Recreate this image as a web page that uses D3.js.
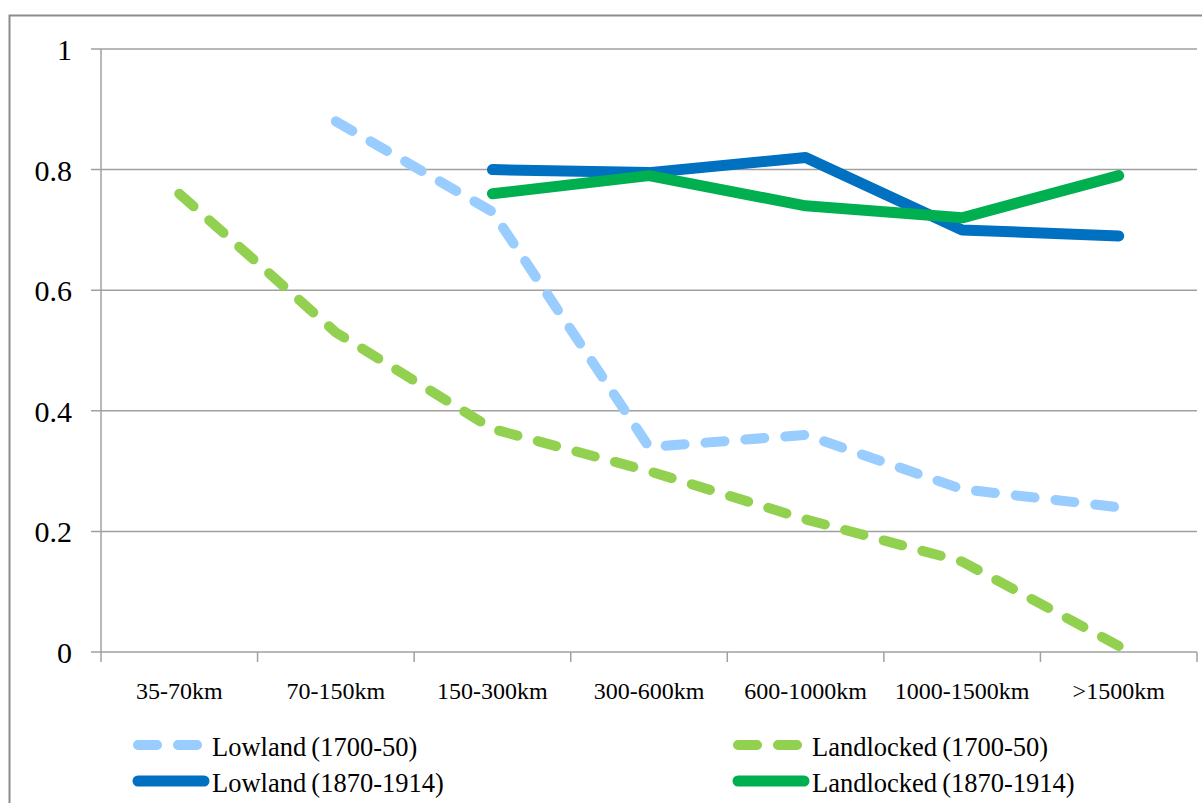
<!DOCTYPE html>
<html>
<head>
<meta charset="utf-8">
<script src="https://cdn.jsdelivr.net/npm/d3@7"></script>
<style>
  html, body { margin: 0; padding: 0; background: #fff; }
  svg { display: block; }
  text { font-family: "Liberation Serif", "Times New Roman", serif; fill: #000; }
</style>
</head>
<body>
<svg id="chart" width="1202" height="803"></svg>
<script>
// ---- data ----
const categories = ["35-70km", "70-150km", "150-300km", "300-600km", "600-1000km", "1000-1500km", ">1500km"];
const lowland1700 = [null, 0.88, 0.73, 0.34, 0.36, 0.27, 0.24];
const landlocked1700 = [0.76, 0.53, 0.37, 0.30, 0.22, 0.15, 0.01];
const lowland1870 = [null, null, 0.80, 0.795, 0.82, 0.70, 0.69];
const landlocked1870 = [null, null, 0.76, 0.79, 0.74, 0.72, 0.79];
const yTicks = [0, 0.2, 0.4, 0.6, 0.8, 1];
const yTickLabels = ["0", "0.2", "0.4", "0.6", "0.8", "1"];
const seriesNames = ["Lowland (1700-50)", "Landlocked (1700-50)", "Lowland (1870-1914)", "Landlocked (1870-1914)"];

const series = [
  { name: seriesNames[0], values: lowland1700, color: "#99CCFF", dashed: true },
  { name: seriesNames[1], values: landlocked1700, color: "#92D050", dashed: true },
  { name: seriesNames[2], values: lowland1870, color: "#0070C0", dashed: false },
  { name: seriesNames[3], values: landlocked1870, color: "#00B050", dashed: false }
];

const svg = d3.select("#chart");
const plotLeft = 101, plotRight = 1197, plotTop = 49, plotBottom = 652;

const x = d3.scaleBand().domain(categories).range([plotLeft, plotRight]).paddingInner(0).paddingOuter(0);
const y = d3.scaleLinear().domain([0, 1]).range([plotBottom, plotTop]);

// outer border
svg.append("rect")
  .attr("x", 9.5).attr("y", 15.5).attr("width", 1210).attr("height", 810)
  .attr("fill", "none").attr("stroke", "#8c8c8c").attr("stroke-width", 2);

// gridlines
svg.append("g").selectAll("line").data(yTicks).join("line")
  .attr("x1", plotLeft - 10).attr("x2", plotRight)
  .attr("y1", d => y(d)).attr("y2", d => y(d))
  .attr("stroke", "#a0a0a0").attr("stroke-width", 1.5);

// y axis line
svg.append("line")
  .attr("x1", plotLeft).attr("x2", plotLeft).attr("y1", plotTop).attr("y2", plotBottom)
  .attr("stroke", "#a0a0a0").attr("stroke-width", 1.5);

// y tick labels
svg.append("g").selectAll("text").data(yTicks).join("text")
  .attr("x", 72).attr("y", d => y(d) + 11)
  .attr("text-anchor", "end")
  .attr("font-size", 30)
  .text((d, i) => yTickLabels[i]);

// x ticks (category boundaries)
const boundaries = categories.map(c => x(c)).concat([plotRight]);
svg.append("g").selectAll("line").data(boundaries).join("line")
  .attr("x1", d => d).attr("x2", d => d)
  .attr("y1", plotBottom).attr("y2", plotBottom + 10)
  .attr("stroke", "#a0a0a0").attr("stroke-width", 1.5);

// x tick labels
svg.append("g").selectAll("text").data(categories).join("text")
  .attr("x", d => x(d) + x.bandwidth() / 2)
  .attr("y", 699)
  .attr("text-anchor", "middle")
  .attr("font-size", 24)
  .text(d => d);

// lines
const line = d3.line()
  .defined(d => d.v !== null)
  .x(d => x(d.c) + x.bandwidth() / 2)
  .y(d => y(d.v));

series.forEach(s => {
  const pts = categories.map((c, i) => ({ c, v: s.values[i] }));
  svg.append("path")
    .attr("d", line(pts))
    .attr("fill", "none")
    .attr("stroke", s.color)
    .attr("stroke-width", s.dashed ? 10 : 11)
    .attr("stroke-linecap", "round")
    .attr("stroke-linejoin", "round")
    .attr("stroke-dasharray", s.dashed ? "19 21" : null);
});

// legend
const legendPos = [
  { lx: 138, ly: 745 }, { lx: 738, ly: 745 },
  { lx: 138, ly: 781 }, { lx: 738, ly: 781 }
];
series.forEach((s, i) => {
  const p = legendPos[i];
  const g = svg.append("g");
  g.append("line")
    .attr("x1", p.lx).attr("x2", s.dashed ? p.lx + 60 : p.lx + 66)
    .attr("y1", p.ly).attr("y2", p.ly)
    .attr("stroke", s.color)
    .attr("stroke-width", s.dashed ? 10 : 11)
    .attr("stroke-linecap", "round")
    .attr("stroke-dasharray", s.dashed ? "19 21" : null);
  g.append("text")
    .attr("x", p.lx + 74).attr("y", p.ly + 11)
    .attr("font-size", 26.5)
    .attr("word-spacing", -1.5)
    .text(s.name);
});
</script>
</body>
</html>
